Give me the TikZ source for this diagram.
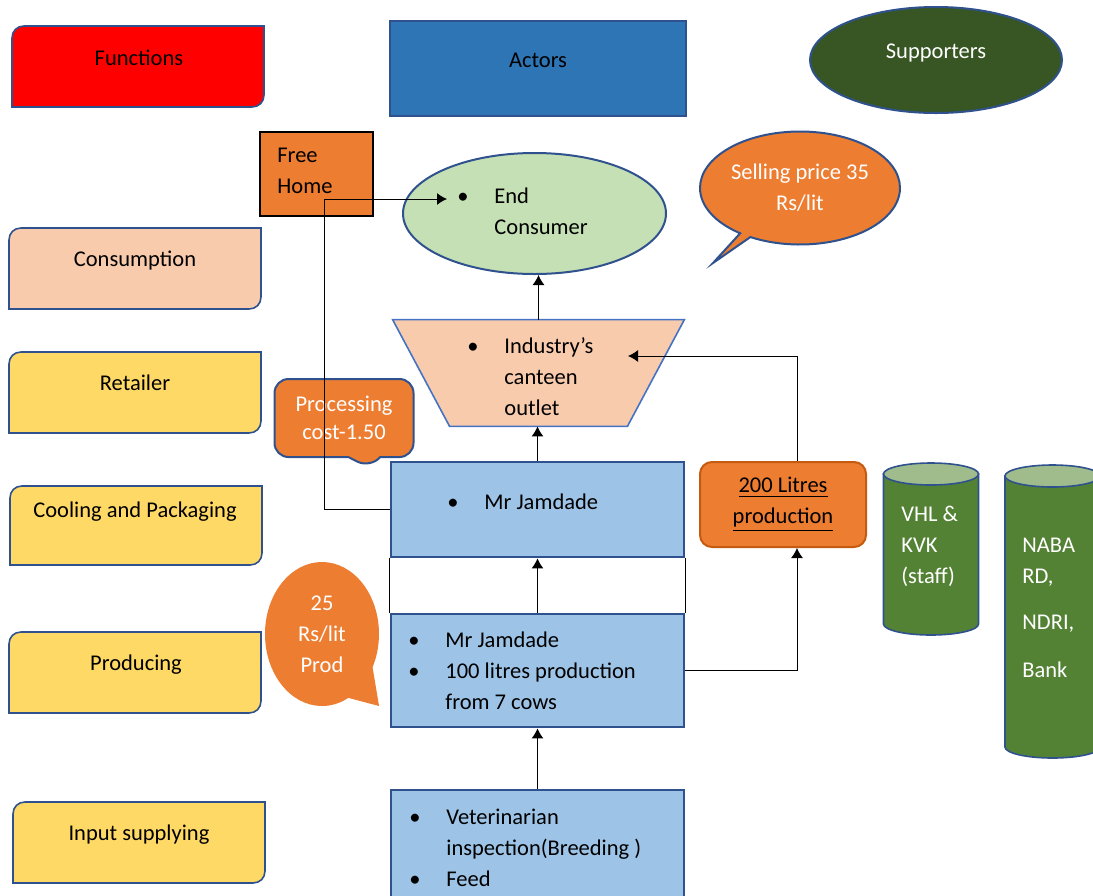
\documentclass[tikz,border=0pt]{standalone}
\usepackage{fontspec}
\setmainfont{Carlito}
\usetikzlibrary{arrows.meta,shapes.callouts,shapes.geometric}

\definecolor{boxline}{HTML}{2F528F}
\definecolor{redfill}{HTML}{FF0000}
\definecolor{peach}{HTML}{F8CBAD}
\definecolor{yellowfill}{HTML}{FFD966}
\definecolor{actorblue}{HTML}{2E75B6}
\definecolor{darkgreen}{HTML}{375623}
\definecolor{orangefill}{HTML}{ED7D31}
\definecolor{lightgreen}{HTML}{C5E0B4}
\definecolor{lightblue}{HTML}{9DC3E6}
\definecolor{cylgreen}{HTML}{548235}
\definecolor{cyltopgreen}{HTML}{A0BC8C}
\definecolor{trapline}{HTML}{4472C4}
\definecolor{litresline}{HTML}{C55A11}

% box with two rounded corners (top left, bottom right)
\newcommand{\funcbox}[5]{%
  \filldraw[fill=#5, draw=boxline, line width=0.8pt]
    (#1,{#2+12}) .. controls (#1,{#2+5}) and ({#1+5},#2) .. ({#1+12},#2) -- (#3,#2)
    -- (#3,{#4-12}) .. controls (#3,{#4-5}) and ({#3-5},#4) .. ({#3-12},#4) -- (#1,#4) -- cycle;}
\newcommand{\bl}{\makebox[18.5pt][l]{\textbullet}}
\newcommand{\ind}{\hspace*{18.5pt}}

\begin{document}
\begin{tikzpicture}[x=0.5pt, y=-0.5pt, font=\fontsize{11.25pt}{15.5pt}\selectfont,
  lbl/.style={inner sep=0pt},
  arr/.style={-{Latex[length=5pt,width=6pt]}, line width=0.5pt},
  jambox/.style={draw=boxline, fill=lightblue, line width=1.4pt, minimum width=146.5pt, inner sep=0pt},
  cylbody/.style={fill=cylgreen, draw=boxline, line width=0.8pt},
  cyltop/.style={fill=cyltopgreen, draw=boxline, line width=0.8pt}]
\useasboundingbox (0,0) rectangle (1093,895);
\clip (0,0) rectangle (1093,895);

% functions
\funcbox{12}{26}{264}{107}{redfill}
\node[lbl] (functions) at (139,58) {Functions};
\funcbox{9}{228}{261}{309}{peach}
\node[lbl] (consumption) at (135,261) {Consumption};
\funcbox{9}{352}{261}{433}{yellowfill}
\node[lbl] (retailer) at (135,383) {Retailer};
\funcbox{10}{486}{262}{565}{yellowfill}
\node[lbl] (cooling) at (135,512) {Cooling and Packaging};
\funcbox{9}{632}{261}{713}{yellowfill}
\node[lbl] (producing) at (136,665) {Producing};
\funcbox{13}{802}{265}{883}{yellowfill}
\node[lbl] (inputsup) at (139,835) {Input supplying};

% actors and supporters
\node[draw=boxline, fill=actorblue, line width=1.4pt, minimum width=148pt, minimum height=47.5pt] (actors) at (538,68.5) {};
\node[lbl] (actorstxt) at (538,60) {Actors};
\node[ellipse, draw=boxline, fill=darkgreen, line width=1pt, inner sep=0pt, minimum width=126pt, minimum height=53pt] (supporters) at (936,60) {};
\node[lbl, text=white] (supptxt) at (936,53) {Supporters};

% consumption
\node[draw=black, fill=orangefill, line width=1pt, minimum width=56.5pt, minimum height=42pt] (freehome) at (316.5,174) {};
\node[lbl, anchor=west, align=left] (freetxt) at (277,171) {Free\\Home};
\node[ellipse, draw=boxline, fill=lightgreen, line width=1pt, inner sep=0pt, minimum width=131.5pt, minimum height=60.5pt] (consumer) at (534.5,213.5) {};
\node[lbl, anchor=west, align=left] (constxt) at (457,211.5) {\bl End\\\ind Consumer};
\node[ellipse callout, draw=boxline, fill=orangefill, line width=1pt, inner sep=0pt, minimum width=100pt, minimum height=56.5pt,
  callout absolute pointer={(713,263)}, callout pointer arc=7, text=white, align=center] (selling) at (800,188) {Selling price 35\\Rs/lit};

% retailer
\node[minimum width=145.5pt, minimum height=53pt, inner sep=0pt] (canteen) at (538.5,373) {};
\filldraw[fill=peach, draw=trapline, line width=0.8pt] (canteen.north west) -- (canteen.north east)
  -- ([xshift=-28.5pt]canteen.south east) -- ([xshift=28.5pt]canteen.south west) -- cycle;
\node[lbl, anchor=west, align=left] (cantxt) at (467,377) {\bl Industry's\\\ind canteen\\\ind outlet};
\node[rectangle callout, rounded corners=7pt, draw=boxline, fill=orangefill, line width=1pt, inner sep=0pt,
  minimum width=69.5pt, minimum height=39pt, callout absolute pointer={(370,468)}, callout pointer width=16pt,
  text=white, align=center, font=\fontsize{11.25pt}{14pt}\selectfont] (proccost) at (344,418) {Processing\\cost-1.50};

% producers
\node[jambox, minimum height=47.5pt] (j1) at (537.5,509.5) {};
\node[lbl, anchor=west] (j1txt) at (447,502) {\bl Mr Jamdade};
\node[jambox, minimum height=56.5pt] (j2) at (537.5,670.5) {};
\node[lbl, anchor=west, align=left] (j2txt) at (408,671) {\bl Mr Jamdade\\\bl 100 litres production\\\ind from 7 cows};
\node[jambox, minimum height=55pt] (input) at (537.5,845) {};
\node[lbl, anchor=west, align=left] (inputtxt) at (409,847.5) {\bl Veterinarian\\\ind inspection(Breeding )\\\bl Feed};
\node[ellipse callout, fill=orangefill, inner sep=0pt, minimum width=57pt, minimum height=72pt,
  callout absolute pointer={(379,706)}, callout pointer arc=35, text=white, align=center] (prodcost) at (322,634) {25\\Rs/lit\\Prod};
\node[draw=litresline, fill=orangefill, line width=1pt, rounded corners=6pt, minimum width=83pt, minimum height=42.5pt,
  align=center] (litres) at (783,504.5) {\underline{200 Litres}\\\underline{production}};

% supporters
\filldraw[cylbody] (883.5,474) -- (883.5,624) arc[start angle=180, end angle=360, x radius=23.75pt, y radius=5.5pt] -- (978.5,474) -- cycle;
\filldraw[cyltop] (931,474) ellipse[x radius=23.75pt, y radius=5.5pt];
\node[lbl, anchor=west, align=left, text=white] (vhl) at (901,546) {VHL \&\\KVK\\(staff)};
\filldraw[cylbody] (1005,476) -- (1005,747) arc[start angle=180, end angle=360, x radius=23.75pt, y radius=5.5pt] -- (1100,476) -- cycle;
\filldraw[cyltop] (1052.5,476) ellipse[x radius=23.75pt, y radius=5.5pt];
\node[lbl, anchor=west, align=left, text=white] (nabard) at (1022,607.5) {NABA\\RD,\\[7.5pt]NDRI,\\[8.5pt]Bank};

% connectors
\coordinate (conin) at (447,199);
\coordinate (canin) at (628,356);
\draw[arr] (input) -- (j2);
\draw[arr] (j2) -- (j1);
\draw[arr] (j1.north) -- (j1.north |- canteen.south);
\draw[arr] (canteen.north) -- (canteen.north |- consumer.south);
\draw[arr] (j2.east) -| ([xshift=7pt]litres.south);
\draw[arr] ([xshift=7pt]litres.north) |- (canin);
\draw[arr] (j1.west) -- ++(-65,0) |- (conin);
\draw (j1.south west) -- (j2.north west);
\draw (j1.south east) -- (j2.north east);
\end{tikzpicture}
\end{document}
